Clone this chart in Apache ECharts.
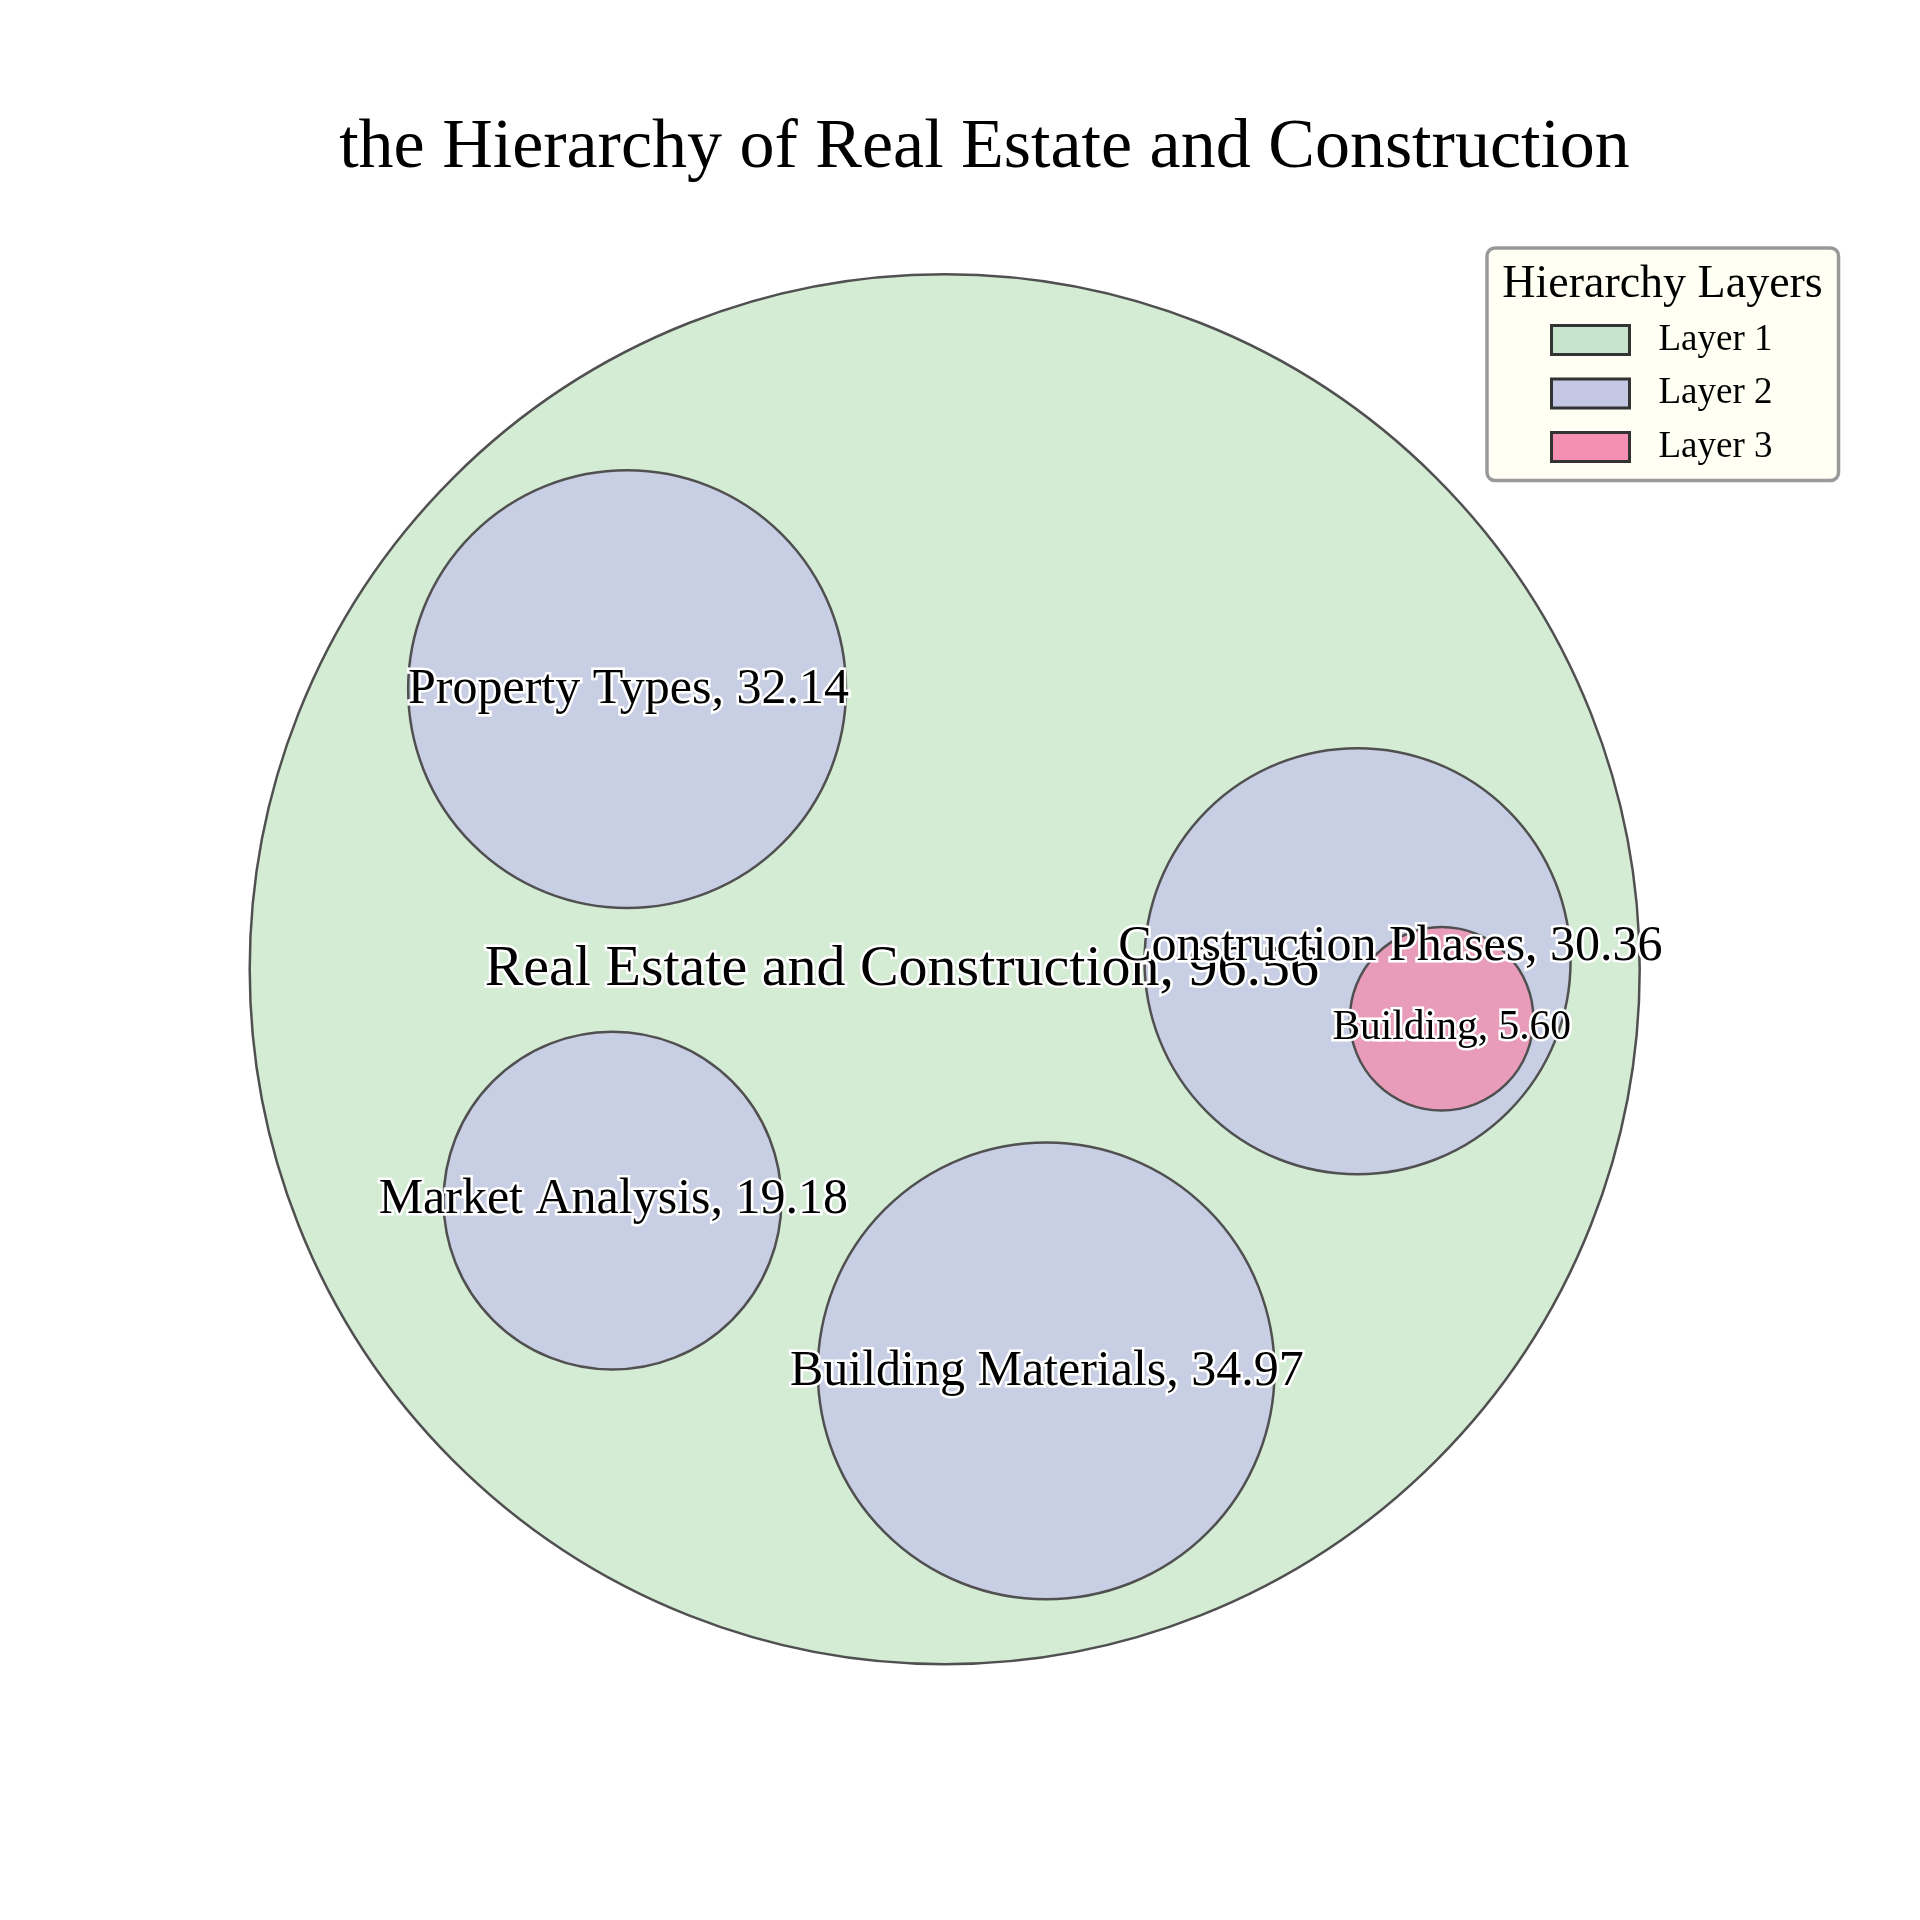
<!DOCTYPE html>
<html>
<head>
<meta charset="utf-8">
<script src="https://cdn.jsdelivr.net/npm/echarts@6/dist/echarts.min.js"></script>
<style>html,body{margin:0;padding:0;background:#fff}#chart{width:1920px;height:1920px}</style>
</head>
<body>
<div id="chart"></div>
<script>
// ---- data ----
const names = ['Real Estate and Construction', 'Property Types', 'Construction Phases', 'Building', 'Market Analysis', 'Building Materials'];
const values = [96.56, 32.14, 30.36, 5.60, 19.18, 34.97];
const layers = [1, 2, 2, 3, 2, 2];
const centerX = [0, -0.457, 0.594, 0.715, -0.478, 0.146];
const centerY = [0, 0.403, 0.0115, -0.0714, -0.333, -0.578];
const radius = [1, 0.315, 0.3065, 0.132, 0.243, 0.3286];
const labelX = [-0.0616, -0.455, 0.6413, 0.7295, -0.4768, 0.147];
const labelY = [0.006, 0.408, 0.0373, -0.0799, -0.3268, -0.574];
const layerNames = ['Layer 1', 'Layer 2', 'Layer 3'];
const chartTitle = 'the Hierarchy of Real Estate and Construction';
const legendTitle = 'Hierarchy Layers';

// ---- styles ----
const FONT = '"Liberation Serif", "Times New Roman", serif';
const fillColors = {1: '#d4ebd4', 2: '#c8cfe4', 3: '#e99cb9'};
const swatchColors = {1: '#c6e5cc', 2: '#c4c8e4', 3: '#f38fb0'};
const labelSizes = {1: 58, 2: 50, 3: 41.5};
const CAP_SHIFT = 0.08; // em-middle to cap-middle offset

const chart = echarts.init(document.getElementById('chart'), null, {renderer: 'canvas'});

function circleSeries(layer) {
  const rows = [];
  names.forEach((n, i) => {
    if (layers[i] === layer) rows.push([centerX[i], centerY[i], radius[i], n, values[i]]);
  });
  return {
    type: 'custom',
    name: layerNames[layer - 1],
    coordinateSystem: 'cartesian2d',
    z: layer,
    itemStyle: {color: swatchColors[layer]},
    data: rows,
    renderItem: function (params, api) {
      const c = api.coord([api.value(0), api.value(1)]);
      const r = api.size([api.value(2), api.value(2)])[0];
      return {
        type: 'circle',
        shape: {cx: c[0], cy: c[1], r: r},
        style: {fill: fillColors[layer], stroke: '#505050', lineWidth: 2.5}
      };
    }
  };
}

const labelRows = names.map((n, i) => [labelX[i], labelY[i], n + ', ' + values[i].toFixed(2), layers[i]]);

const titleSize = 70, legendTitleSize = 46;

const option = {
  backgroundColor: '#ffffff',
  animation: false,
  grid: {left: 110.7, top: 135.2, width: 1668, height: 1668, containLabel: false},
  xAxis: {type: 'value', min: -1.2, max: 1.2, show: false},
  yAxis: {type: 'value', min: -1.2, max: 1.2, show: false},
  legend: {
    orient: 'vertical',
    left: 1487,
    top: 248,
    padding: [73.5, 66, 15, 63],
    itemWidth: 78,
    itemHeight: 29,
    itemGap: 16.5,
    backgroundColor: '#fffff4',
    borderColor: '#999999',
    borderWidth: 3.5,
    borderRadius: 8,
    icon: 'rect',
    itemStyle: {borderColor: '#333333', borderWidth: 3},
    textStyle: {fontFamily: FONT, fontSize: 37, color: '#000', padding: [0, 0, 0, 24]},
    data: layerNames.map((n, k) => ({name: n, itemStyle: {color: swatchColors[k + 1], borderColor: '#333333', borderWidth: 3}}))
  },
  graphic: [
    {type: 'text', x: 984.5, y: 143 + CAP_SHIFT * titleSize, z: 100,
     style: {text: chartTitle, fontFamily: FONT, fontSize: titleSize, fill: '#000', align: 'center', verticalAlign: 'middle'}},
    {type: 'text', x: 1662.5, y: 281 + CAP_SHIFT * legendTitleSize, z: 100,
     style: {text: legendTitle, fontFamily: FONT, fontSize: legendTitleSize, fill: '#000', align: 'center', verticalAlign: 'middle'}}
  ],
  series: [
    circleSeries(1),
    circleSeries(2),
    circleSeries(3),
    {
      type: 'custom',
      name: 'labels',
      coordinateSystem: 'cartesian2d',
      z: 10,
      silent: true,
      data: labelRows,
      renderItem: function (params, api) {
        const p = api.coord([api.value(0), api.value(1)]);
        const fs = labelSizes[api.value(3)];
        return {
          type: 'text',
          x: p[0], y: p[1] + CAP_SHIFT * fs,
          style: {
            text: labelRows[params.dataIndex][2],
            fontFamily: FONT,
            fontSize: fs,
            fill: '#000',
            stroke: '#ffffff',
            lineWidth: 5,
            align: 'center',
            verticalAlign: 'middle'
          }
        };
      }
    }
  ]
};
chart.setOption(option);
</script>
</body>
</html>
